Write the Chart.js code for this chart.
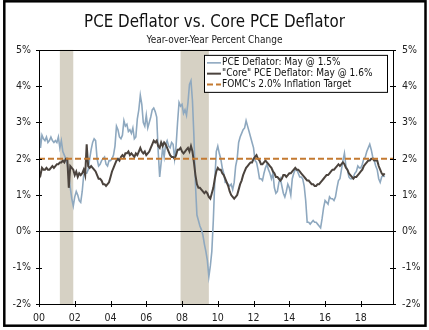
<!DOCTYPE html>
<html>
<head>
<meta charset="utf-8">
<script src="https://cdn.jsdelivr.net/npm/chart.js@4.4.0/dist/chart.umd.min.js"></script>
<style>
  html, body { margin: 0; padding: 0; background: #fff; }
</style>
</head>
<body>
<canvas id="chart" width="429" height="330"></canvas>
<script>
// monthly y/y % change, Jan 2000 - May 2019
const startYear = 2000;
const pceDeflator = [
  2.85, 2.3, 2.65, 2.55, 2.5, 2.6, 2.45, 2.5, 2.6, 2.5, 2.45, 2.5,      // 2000
  2.45, 2.6, 2.3, 2.5, 2.2, 2.1, 2.0, 1.85, 1.55, 1.2, 0.9, 0.7,        // 2001
  0.95, 1.1, 1.0, 0.85, 0.8, 1.1, 1.55, 1.6, 1.6, 1.7, 2.0, 2.25,       // 2002
  2.45, 2.55, 2.5, 2.0, 1.8, 1.85, 1.95, 2.0, 2.05, 1.85, 1.8, 1.95,    // 2003
  1.95, 2.0, 2.1, 2.35, 2.9, 2.8, 2.6, 2.55, 2.65, 3.05, 2.9, 2.95,     // 2004
  2.75, 2.8, 2.7, 2.85, 2.55, 2.6, 3.1, 3.35, 3.75, 3.5, 3.0, 2.9,      // 2005
  3.2, 2.85, 3.0, 3.15, 3.35, 3.4, 3.3, 3.15, 2.2, 1.5, 1.9, 2.3,       // 2006
  2.05, 2.4, 2.5, 2.35, 2.3, 2.45, 2.4, 2.0, 2.35, 3.0, 3.55, 3.45,     // 2007
  3.5, 3.25, 3.35, 3.2, 3.55, 4.05, 4.15, 3.6, 2.6, 1.3, 0.45, 0.3,     // 2008
  0.15, 0.05, -0.1, -0.35, -0.55, -0.8, -1.25, -0.95, -0.55, 0.3, 1.4, 2.2, // 2009
  2.35, 2.15, 2.0, 1.75, 1.6, 1.35, 1.35, 1.3, 1.25, 1.3, 1.15, 1.35,   // 2010
  1.8, 2.0, 2.45, 2.6, 2.7, 2.8, 2.85, 3.05, 2.9, 2.75, 2.6, 2.45,      // 2011
  2.3, 1.95, 1.9, 1.7, 1.45, 1.45, 1.4, 1.6, 1.75, 1.85, 1.7, 1.6,      // 2012
  1.45, 1.6, 1.2, 1.05, 1.1, 1.35, 1.45, 1.25, 1.05, 0.95, 1.1, 1.3,    // 2013
  1.2, 1.0, 1.45, 1.6, 1.7, 1.7, 1.6, 1.5, 1.5, 1.45, 1.25, 0.85,       // 2014
  0.25, 0.25, 0.2, 0.25, 0.3, 0.25, 0.25, 0.2, 0.15, 0.1, 0.35, 0.65,   // 2015
  0.85, 0.8, 0.75, 0.95, 0.9, 0.9, 0.85, 0.95, 1.2, 1.4, 1.45, 1.7,     // 2016
  1.95, 2.15, 1.8, 1.7, 1.5, 1.45, 1.45, 1.5, 1.6, 1.65, 1.8, 1.75,     // 2017
  1.75, 1.85, 2.0, 2.05, 2.2, 2.3, 2.4, 2.25, 2.05, 1.95, 1.8, 1.7,     // 2018
  1.45, 1.35, 1.5, 1.55, 1.5                                            // 2019
];
const corePce = [
  1.65, 1.55, 1.75, 1.7, 1.7, 1.75, 1.7, 1.7, 1.75, 1.8, 1.75, 1.8,     // 2000
  1.85, 1.85, 1.9, 1.9, 1.95, 1.9, 2.0, 2.0, 1.2, 1.8, 1.75, 1.7,       // 2001
  1.55, 1.65, 1.5, 1.6, 1.55, 1.6, 1.7, 1.55, 2.4, 1.8, 1.75, 1.8,      // 2002
  1.75, 1.7, 1.65, 1.55, 1.45, 1.45, 1.4, 1.3, 1.3, 1.25, 1.3, 1.35,    // 2003
  1.5, 1.65, 1.75, 1.85, 1.95, 2.0, 1.95, 2.05, 2.1, 2.05, 2.15, 2.15,  // 2004
  2.2, 2.1, 2.15, 2.1, 2.05, 2.15, 2.1, 2.2, 2.3, 2.2, 2.15, 2.2,       // 2005
  2.1, 2.15, 2.2, 2.3, 2.4, 2.5, 2.45, 2.5, 2.35, 2.3, 2.45, 2.35,      // 2006
  2.45, 2.4, 2.3, 2.2, 2.1, 2.05, 2.05, 2.0, 2.1, 2.25, 2.25, 2.3,      // 2007
  2.2, 2.15, 2.2, 2.25, 2.3, 2.2, 2.35, 2.2, 1.9, 1.55, 1.3, 1.2,       // 2008
  1.2, 1.15, 1.1, 1.05, 1.1, 1.05, 0.95, 0.9, 1.05, 1.2, 1.45, 1.65,    // 2009
  1.75, 1.7, 1.7, 1.6, 1.55, 1.45, 1.35, 1.25, 1.1, 1.0, 0.95, 0.9,     // 2010
  0.95, 1.0, 1.15, 1.3, 1.4, 1.55, 1.65, 1.75, 1.8, 1.85, 1.9, 1.9,     // 2011
  2.0, 2.05, 2.1, 2.0, 1.95, 1.85, 1.85, 1.9, 1.95, 1.9, 1.85, 1.8,     // 2012
  1.75, 1.65, 1.6, 1.5, 1.5, 1.45, 1.4, 1.45, 1.55, 1.55, 1.5, 1.55,    // 2013
  1.6, 1.6, 1.65, 1.7, 1.75, 1.7, 1.7, 1.65, 1.6, 1.55, 1.5, 1.45,      // 2014
  1.4, 1.4, 1.35, 1.3, 1.3, 1.25, 1.25, 1.3, 1.3, 1.35, 1.4, 1.45,      // 2015
  1.5, 1.55, 1.55, 1.6, 1.65, 1.7, 1.7, 1.75, 1.8, 1.85, 1.8, 1.85,     // 2016
  1.9, 1.85, 1.75, 1.7, 1.6, 1.55, 1.5, 1.45, 1.5, 1.5, 1.55, 1.6,      // 2017
  1.65, 1.7, 1.8, 1.85, 1.9, 1.95, 1.95, 2.0, 2.0, 1.95, 1.95, 1.95,    // 2018
  1.8, 1.7, 1.6, 1.55, 1.6                                              // 2019
];
const inflationTarget = 2.0;
// recessions, as decimal years (start of first month, end of last month)
const recessionStart = [2001 + 2/12, 2007 + 11/12];
const recessionEnd = [2001 + 11/12, 2009 + 6/12];
const seriesLabels = [
  'PCE Deflator: May @ 1.5%',
  '"Core" PCE Deflator: May @ 1.6%',
  'FOMC\'s 2.0% Inflation Target'
];
const xMin = 2000, xMax = 2019.8;
const yMin = -2, yMax = 5;

const FONT = '"DejaVu Sans Condensed", "DejaVu Sans", sans-serif';

function toPoints(arr) {
  return arr.map((v, i) => ({ x: startYear + i / 12, y: v }));
}

const decor = {
  id: 'decor',
  beforeDatasetsDraw(chart) {
    const { ctx, chartArea: a, scales: { x, y } } = chart;
    ctx.save();
    ctx.fillStyle = '#d6d1c4';
    for (let i = 0; i < recessionStart.length; i++) {
      const x0 = x.getPixelForValue(recessionStart[i]);
      const x1 = x.getPixelForValue(recessionEnd[i]);
      ctx.fillRect(x0, a.top, x1 - x0, a.bottom - a.top);
    }
    // zero line
    const y0 = Math.round(y.getPixelForValue(0)) + 0.5;
    ctx.strokeStyle = '#000';
    ctx.lineWidth = 1;
    ctx.beginPath();
    ctx.moveTo(a.left, y0);
    ctx.lineTo(a.right, y0);
    ctx.stroke();
    ctx.restore();
  },
  afterDatasetsDraw(chart) {
    const { ctx, chartArea: a, scales: { x, y } } = chart;
    ctx.save();
    // plot box
    ctx.strokeStyle = '#000';
    ctx.lineWidth = 1;
    ctx.strokeRect(Math.round(a.left) + 0.5, Math.round(a.top) + 0.5,
      Math.round(a.right - a.left), Math.round(a.bottom - a.top));
    // tick marks crossing the axes
    ctx.beginPath();
    y.ticks.forEach(t => {
      const py = Math.round(y.getPixelForValue(t.value)) + 0.5;
      ctx.moveTo(a.left - 3, py); ctx.lineTo(a.left + 3, py);
      ctx.moveTo(a.right - 3, py); ctx.lineTo(a.right + 3, py);
    });
    x.ticks.forEach(t => {
      const px = Math.round(x.getPixelForValue(t.value)) + 0.5;
      ctx.moveTo(px, a.bottom - 3); ctx.lineTo(px, a.bottom + 3);
    });
    ctx.stroke();

    // legend box
    const lx = a.left + 165, ly = a.top + 5, lw = 183, lh = 37;
    ctx.fillStyle = '#fff';
    ctx.fillRect(lx, ly, lw, lh);
    ctx.strokeRect(lx + 0.5, ly + 0.5, lw, lh);
    ctx.font = '10px ' + FONT;
    ctx.textBaseline = 'middle';
    ctx.textAlign = 'left';
    chart.data.datasets.forEach((ds, i) => {
      const ry = ly + 8 + i * 10.8;
      ctx.strokeStyle = ds.borderColor;
      ctx.lineWidth = ds.borderWidth;
      ctx.setLineDash(ds.borderDash || []);
      ctx.beginPath();
      ctx.moveTo(lx + 3, ry); ctx.lineTo(lx + 17, ry);
      ctx.stroke();
      ctx.setLineDash([]);
      ctx.fillStyle = '#111';
      ctx.fillText(ds.label, lx + 18, ry);
    });

    // outer frame
    ctx.strokeStyle = '#000';
    ctx.lineWidth = 2.5;
    ctx.strokeRect(4.3, 1.3, 421.2, 324.4);
    ctx.restore();
  }
};

const chart = new Chart(document.getElementById('chart'), {
  type: 'line',
  data: {
    datasets: [
      {
        label: seriesLabels[0],
        data: toPoints(pceDeflator),
        borderColor: '#8ea8bf',
        borderWidth: 1.6,
        pointRadius: 0,
        tension: 0,
        order: 2
      },
      {
        label: seriesLabels[1],
        data: toPoints(corePce),
        borderColor: '#4b433d',
        borderWidth: 2,
        pointRadius: 0,
        tension: 0,
        order: 1
      },
      {
        label: seriesLabels[2],
        data: [{ x: xMin, y: inflationTarget }, { x: xMax, y: inflationTarget }],
        borderColor: '#c47a31',
        borderWidth: 2,
        borderDash: [6, 3],
        pointRadius: 0,
        order: 0
      }
    ]
  },
  options: {
    responsive: false,
    animation: false,
    devicePixelRatio: 1,
    layout: { padding: 0 },
    scales: {
      x: {
        type: 'linear',
        min: xMin,
        max: xMax,
        grid: { display: false, drawTicks: false },
        border: { display: false },
        ticks: {
          stepSize: 2,
          includeBounds: false,
          maxRotation: 0,
          padding: 8,
          color: '#222',
          font: { family: FONT, size: 10.5 },
          callback: v => String(v % 100).padStart(2, '0')
        },
        afterFit: s => { s.height = 26; }
      },
      y: {
        position: 'left',
        min: yMin,
        max: yMax,
        grid: { display: false, drawTicks: false },
        border: { display: false },
        ticks: {
          stepSize: 1,
          padding: 8,
          color: '#222',
          font: { family: FONT, size: 10.5 },
          callback: v => v + '%'
        },
        afterFit: s => { s.width = 39; }
      },
      y2: {
        position: 'right',
        min: yMin,
        max: yMax,
        grid: { display: false, drawTicks: false },
        border: { display: false },
        ticks: {
          stepSize: 1,
          padding: 9,
          color: '#222',
          font: { family: FONT, size: 10.5 },
          callback: v => v + '%'
        },
        afterFit: s => { s.width = 36; }
      }
    },
    plugins: {
      legend: { display: false },
      tooltip: { enabled: false },
      title: {
        display: true,
        text: 'PCE Deflator vs. Core PCE Deflator',
        color: '#111',
        font: { family: FONT, size: 16.8, weight: 'normal' },
        padding: { top: 12.9, bottom: 1 }
      },
      subtitle: {
        display: true,
        text: 'Year-over-Year Percent Change',
        color: '#222',
        font: { family: FONT, size: 10 },
        padding: { top: 0, bottom: 3.8 }
      }
    }
  },
  plugins: [decor]
});
</script>
</body>
</html>
